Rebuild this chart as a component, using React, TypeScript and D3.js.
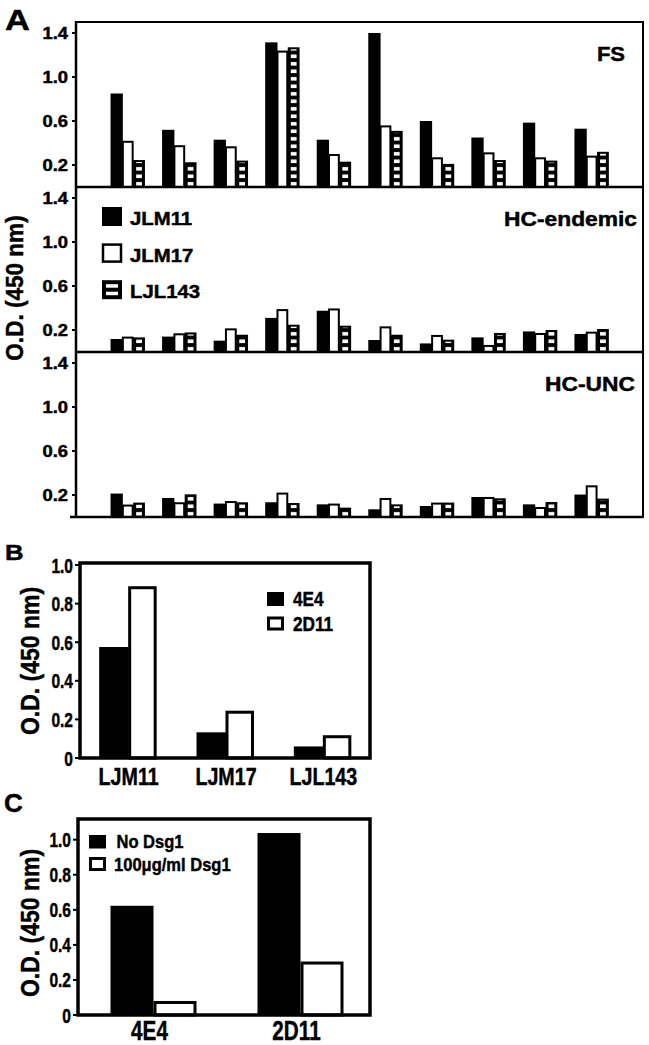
import React from "react";
import * as d3 from "d3";

// ---------- Data ----------
const groupsA = ["1", "2", "3", "4", "5", "6", "7", "8", "9", "10"];
const seriesA = ["JLM11", "JLM17", "LJL143"];
const panelNames = ["FS", "HC-endemic", "HC-UNC"];

const fsJLM11 = [0.85, 0.52, 0.43, 1.315, 0.43, 1.4, 0.6, 0.45, 0.585, 0.53];
const fsJLM17 = [0.42, 0.38, 0.37, 1.24, 0.3, 0.56, 0.27, 0.315, 0.27, 0.285];
const fsLJL143 = [0.245, 0.225, 0.24, 1.27, 0.23, 0.51, 0.21, 0.245, 0.24, 0.32];

const endJLM11 = [0.118, 0.14, 0.103, 0.31, 0.375, 0.109, 0.078, 0.133, 0.187, 0.164];
const endJLM17 = [0.14, 0.17, 0.215, 0.39, 0.396, 0.233, 0.155, 0.064, 0.173, 0.185];
const endLJL143 = [0.133, 0.178, 0.157, 0.248, 0.239, 0.157, 0.112, 0.173, 0.2, 0.209];

const uncJLM11 = [0.213, 0.173, 0.122, 0.134, 0.115, 0.07, 0.1, 0.182, 0.115, 0.204];
const uncJLM17 = [0.113, 0.134, 0.145, 0.222, 0.122, 0.173, 0.131, 0.182, 0.091, 0.288];
const uncLJL143 = [0.131, 0.206, 0.134, 0.127, 0.085, 0.115, 0.131, 0.17, 0.136, 0.167];

const ticksA = [0.2, 0.6, 1.0, 1.4];

const catsB = ["LJM11", "LJM17", "LJL143"];
const seriesB = ["4E4", "2D11"];
const b4E4 = [0.575, 0.133, 0.06];
const b2D11 = [0.89, 0.245, 0.118];

const catsC = ["4E4", "2D11"];
const seriesC = ["No Dsg1", "100\u03bcg/ml Dsg1"];
const cNoDsg = [0.623, 1.038];
const cDsg = [0.08, 0.305];

const ticksBC = [0, 0.2, 0.4, 0.6, 0.8, 1.0];
const yTitle = "O.D. (450 nm)";

// ---------- helpers ----------
const FONT = "'Liberation Sans', Arial, Helvetica, sans-serif";

function T(props: {
  x: number; y: number; size: number; sx?: number; anchor?: string; rotate?: number; children: React.ReactNode;
}) {
  const { x, y, size, sx = 1, anchor = "start", rotate = 0, children } = props;
  return (
    <text
      transform={`translate(${x},${y}) rotate(${rotate}) scale(${sx},1)`}
      fontSize={size}
      fontWeight="bold"
      fontFamily={FONT}
      textAnchor={anchor as any}
      fill="#000"
      stroke="#000"
      strokeWidth={0.45}
    >
      {children}
    </text>
  );
}

function StripedRect({ x, y, w, h }: { x: number; y: number; w: number; h: number }) {
  if (h <= 0) return null;
  return (
    <g>
      <rect x={x} y={y} width={w} height={h} fill="#000" />
      {h > 4 && <rect x={x + 3} y={y + 2} width={Math.max(0, w - 6)} height={h - 3} fill="url(#stripes)" />}
    </g>
  );
}

export default function App() {
  // ---------- Panel A ----------
  const aLeft = 76, aRight = 643;
  const panelTops = [22, 187, 352];
  const panelH = 165;
  const xA = d3.scaleLinear().domain([0, groupsA.length + 1]).range([aLeft, aRight]);
  const dataA = [
    [fsJLM11, fsJLM17, fsLJL143],
    [endJLM11, endJLM17, endLJL143],
    [uncJLM11, uncJLM17, uncLJL143],
  ];
  const barW = 11.3;
  const offsets = [-17, -5.7, 5.6];

  const panelsA = panelTops.map((top, pi) => {
    const y = d3.scaleLinear().domain([0, 1.5]).range([top + panelH, top]);
    const base = y(0);
    return (
      <g key={pi}>
        {groupsA.map((g, gi) => {
          const cx = xA(gi + 1);
          return (
            <g key={g}>
              {seriesA.map((s, si) => {
                const v = dataA[pi][si][gi];
                const bx = cx + offsets[si];
                const by = y(v);
                const h = base - by;
                if (si === 0) return <rect key={s} x={bx} y={by} width={barW + 1} height={h} fill="#000" />;
                if (si === 1)
                  return (
                    <rect key={s} x={bx + 1} y={by + 1} width={barW - 1.5} height={h - 1} fill="#fff" stroke="#000" strokeWidth={2} />
                  );
                return <StripedRect key={s} x={bx} y={by} w={barW + 0.5} h={h} />;
              })}
            </g>
          );
        })}
        {ticksA.map((t) => (
          <g key={t}>
            <line x1={aLeft - 4} x2={aLeft} y1={y(t)} y2={y(t)} stroke="#000" strokeWidth={2} />
            <T x={aLeft - 8} y={y(t) + 6} size={16} sx={1.15} anchor="end">
              {t.toFixed(1)}
            </T>
          </g>
        ))}
        <line x1={pi === 2 ? aLeft - 6 : aLeft} x2={aRight} y1={base} y2={base} stroke="#000" strokeWidth={2.5} />
        <T x={pi === 0 ? 625 : pi === 1 ? 637 : 635} y={pi === 0 ? 61 : pi === 1 ? 226 : 391} size={20} sx={pi === 0 ? 1.1 : 1.14} anchor="end">
          {panelNames[pi]}
        </T>
      </g>
    );
  });

  // legend A (inside middle panel)
  const legendA = seriesA.map((s, i) => {
    const ly = 207 + i * 36.6;
    return (
      <g key={s}>
        {i === 0 && <rect x={102} y={ly} width={20} height={19} fill="#000" />}
        {i === 1 && <rect x={103} y={ly + 1} width={18} height={17} fill="#fff" stroke="#000" strokeWidth={2.5} />}
        {i === 2 && (
          <g>
            <rect x={102} y={ly} width={20} height={19} fill="#000" />
            <rect x={106} y={ly + 4} width={12} height={3.5} fill="#fff" />
            <rect x={106} y={ly + 11.5} width={12} height={3.5} fill="#fff" />
          </g>
        )}
        <T x={130} y={ly + 18} size={18.5} sx={1.1}>
          {s}
        </T>
      </g>
    );
  });

  // ---------- Panel B ----------
  const bL = 80, bR = 370, bT = 563, bB = 758;
  const yB = d3.scaleLinear().domain([0, 1]).range([bB, 565]);
  const xB = d3.scaleBand().domain(catsB).range([bL, bR + 2]).paddingInner(0).paddingOuter(0);
  const wB = 28.5;

  // ---------- Panel C ----------
  const cL = 78, cR = 370, cT = 819, cB = 1015;
  const yC = d3.scaleLinear().domain([0, 1.118]).range([cB, cT]);
  const xC = d3.scaleBand().domain(catsC).range([cL + 2, cR + 4]);
  const wC = 43;

  return (
    <svg
      width={649}
      height={1045}
      viewBox="0 0 649 1045"
      style={{ position: "absolute", left: 0, top: 0, background: "#fff" }}
    >
      <defs>
        <pattern id="stripes" patternUnits="userSpaceOnUse" width={20} height={7.5}>
          <rect x={0} y={0} width={20} height={7.5} fill="#000" />
          <rect x={0} y={2} width={20} height={3.6} fill="#fff" />
        </pattern>
      </defs>
      <rect x={0} y={0} width={649} height={1045} fill="#fff" />

      {/* Panel A */}
      <T x={5} y={30} size={30} sx={1.15}>A</T>
      {panelsA}
      <line x1={aLeft} x2={aRight} y1={22} y2={22} stroke="#000" strokeWidth={2} />
      <line x1={aLeft} x2={aLeft} y1={21} y2={518} stroke="#000" strokeWidth={2.5} />
      <line x1={aRight} x2={aRight} y1={21} y2={518} stroke="#000" strokeWidth={2} />
      {legendA}
      <T x={23} y={288} size={24} sx={0.94} anchor="middle" rotate={-90}>
        {yTitle}
      </T>

      {/* Panel B */}
      <T x={5} y={560} size={23} sx={1.12}>B</T>
      {catsB.map((c, i) => {
        const x0 = (xB(c) as number) + xB.bandwidth() / 2;
        return (
          <g key={c}>
            <rect x={x0 - wB - 1} y={yB(b4E4[i])} width={wB + 1} height={bB - yB(b4E4[i])} fill="#000" />
            <rect
              x={x0 + 1}
              y={yB(b2D11[i]) + 1.5}
              width={wB - 3}
              height={bB - yB(b2D11[i]) - 1.5}
              fill="#fff"
              stroke="#000"
              strokeWidth={3}
            />
            <T x={x0} y={785} size={24} sx={0.82} anchor="middle">
              {c}
            </T>
          </g>
        );
      })}
      {ticksBC.map((t) => (
        <g key={t}>
          <line x1={bL - 5} x2={bL} y1={yB(t)} y2={yB(t)} stroke="#000" strokeWidth={2} />
          <T x={bL - 7} y={yB(t) + 7.5} size={21} sx={0.74} anchor="end">
            {t === 0 ? "0" : t.toFixed(1)}
          </T>
        </g>
      ))}
      <rect x={bL} y={bT} width={bR - bL} height={bB - bT} fill="none" stroke="#000" strokeWidth={3.5} />
      <rect x={267} y={592} width={17} height={14} fill="#000" />
      <rect x={268.5} y={618} width={14} height={11} fill="#fff" stroke="#000" strokeWidth={3} />
      <T x={293} y={606} size={20} sx={0.86}>{seriesB[0]}</T>
      <T x={293} y={631} size={20} sx={0.86}>{seriesB[1]}</T>
      <T x={39} y={661} size={25} sx={0.92} anchor="middle" rotate={-90}>
        {yTitle}
      </T>

      {/* Panel C */}
      <T x={4} y={812} size={26} sx={1.0}>C</T>
      {catsC.map((c, i) => {
        const x0 = (xC(c) as number) + xC.bandwidth() / 2;
        return (
          <g key={c}>
            <rect x={x0 - wC} y={yC(cNoDsg[i])} width={wC} height={cB - yC(cNoDsg[i])} fill="#000" />
            <rect
              x={x0 + 1.5}
              y={yC(cDsg[i]) + 1.5}
              width={wC - 3}
              height={cB - yC(cDsg[i]) - 1.5}
              fill="#fff"
              stroke="#000"
              strokeWidth={3}
            />
            <T x={x0 - 4} y={1040} size={28} sx={0.74} anchor="middle">
              {c}
            </T>
          </g>
        );
      })}
      {ticksBC.map((t) => (
        <g key={t}>
          <line x1={cL - 5} x2={cL} y1={yC(t)} y2={yC(t)} stroke="#000" strokeWidth={2} />
          <T x={cL - 7} y={yC(t) + 7.5} size={21} sx={0.74} anchor="end">
            {t === 0 ? "0" : t.toFixed(1)}
          </T>
        </g>
      ))}
      <rect x={cL} y={cT} width={cR - cL} height={cB - cT} fill="none" stroke="#000" strokeWidth={3.5} />
      <rect x={89} y={835} width={17} height={13.5} fill="#000" />
      <rect x={90.5} y={858.5} width={14} height={11} fill="#fff" stroke="#000" strokeWidth={3} />
      <T x={116.5} y={848} size={19} sx={0.87}>{seriesC[0]}</T>
      <T x={114} y={871} size={19} sx={0.87}>{seriesC[1]}</T>
      <T x={39} y={923} size={25} sx={0.92} anchor="middle" rotate={-90}>
        {yTitle}
      </T>
    </svg>
  );
}
